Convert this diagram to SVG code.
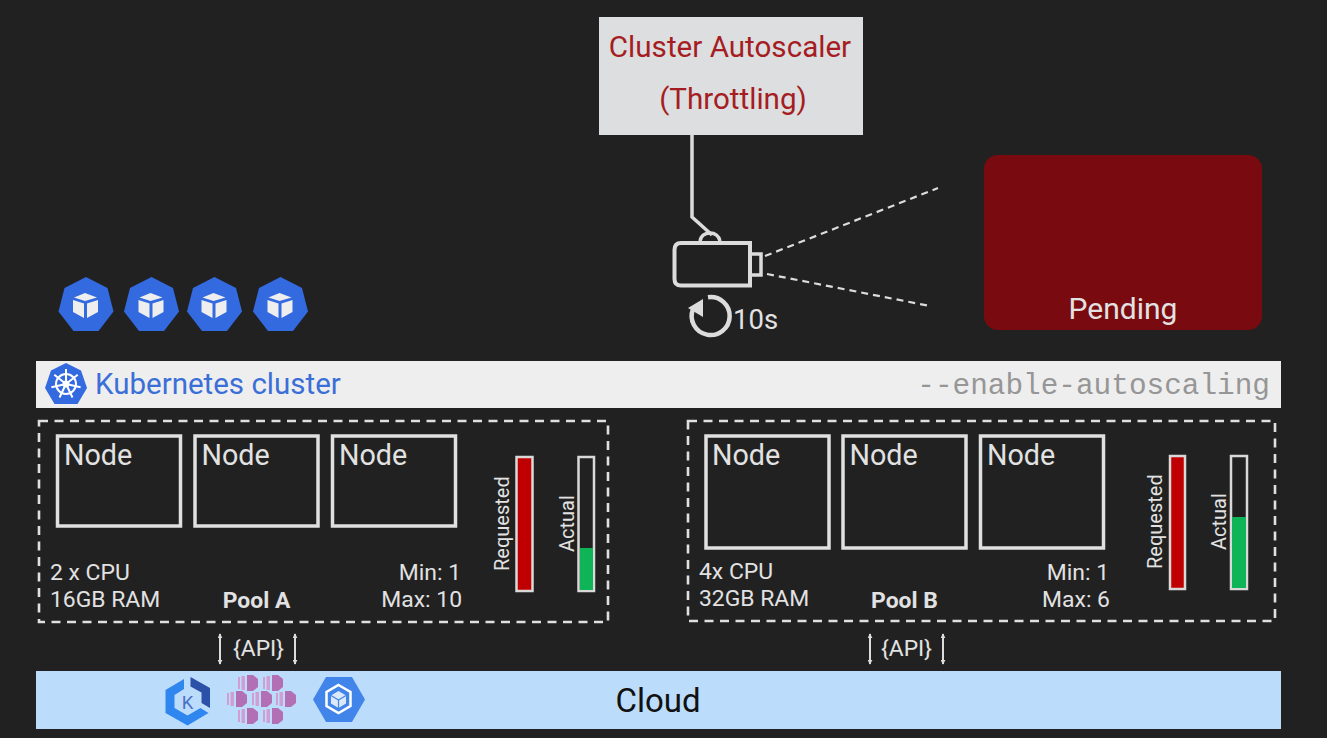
<svg xmlns="http://www.w3.org/2000/svg" width="1327" height="738" viewBox="0 0 1327 738">
<defs>
<style>
text{font-family:Roboto,"Liberation Sans",sans-serif;fill:#e2e2e2}
.node{fill:none;stroke:#e0e0e0;stroke-width:3.500}
.pool{fill:none;stroke:#e0e0e0;stroke-width:2.600;stroke-dasharray:9 6.500}
.n{font-size:28.700px}
.s{font-size:22.900px}
.v{font-size:20px}
.bar{stroke:#d9d9d9;stroke-width:2.500}
.ln{fill:none;stroke:#dcdcdc}
.hex{fill:#336ae0}
.white{fill:#eeeeee}
</style>
<marker id="a" viewBox="0 0 6 6" refX="5" refY="3" markerWidth="5" markerHeight="5" markerUnits="userSpaceOnUse" orient="auto-start-reverse"><path d="M0 0L6 3L0 6Z" fill="#dcdcdc"/></marker>
<g id="cube"><polygon class="hex" points="0,-28 21.500,-17 27.500,6.500 12.500,26 -12.500,26 -27.500,6.500 -21.500,-17"/><path class="white" d="M-1,-12 L-12,-7.500 L-1,-4 L11,-7.500Z"/><path class="white" d="M-13,-5 L-2,-1.500 V13 L-13,7Z"/><path class="white" d="M1,-1.500 L12,-5 V7 L1,13Z"/></g>
<g id="pod"><path fill="#b26fb4" d="M-1,-8 L5,-8 L10,-4 V4 L5,8 L-1,8Z"/><path fill="#cf9fd3" d="M-10,-6 H-8 V6 H-10Z M-6.500,-7 H-3 V7 H-6.500Z"/></g>
</defs>
<rect width="1327" height="738" fill="#212121"/>
<g id="connectors">
<path class="ln" stroke-width="3.500" d="M692 135V217L712 235"/>
<path class="ln" stroke-width="2.200" stroke-dasharray="7 5" d="M765 256L938 188"/>
<path class="ln" stroke-width="2.200" stroke-dasharray="7 5" d="M767 274L930 306"/>
<path class="ln" stroke-width="2" marker-start="url(#a)" marker-end="url(#a)" d="M220 634V664"/>
<path class="ln" stroke-width="2" marker-start="url(#a)" marker-end="url(#a)" d="M295 634V664"/>
<path class="ln" stroke-width="2" marker-start="url(#a)" marker-end="url(#a)" d="M870 634V664"/>
<path class="ln" stroke-width="2" marker-start="url(#a)" marker-end="url(#a)" d="M943 634V664"/>
</g>
<g id="autoscaler"><rect x="599" y="17" width="264" height="118" fill="#dcdee0"/><text x="730" y="57" text-anchor="middle" font-size="29.600" style="fill:#a51d22">Cluster Autoscaler</text><text x="733" y="109" text-anchor="middle" font-size="29.600" style="fill:#a51d22">(Throttling)</text></g>
<g id="camera">
<path class="ln" stroke-width="3.500" d="M700 241C701 235 706 233 710 233C715 233 719 236 720 241"/>
<path class="ln" stroke-width="4" d="M750 243H681Q674.500 243 674.500 250V279Q674.500 285.500 681 285.500H750Z"/>
<rect class="ln" x="750" y="254" width="11" height="21" stroke-width="3.500"/>
<path class="ln" stroke-width="4.500" d="M708 297.200A19 19 0 1 1 693 309"/>
<polygon points="688,308 703,299 703,317" fill="#dcdcdc"/>
<text x="733" y="329" font-size="27.500">10s</text>
</g>
<g id="pending"><rect x="984" y="155" width="278" height="175" rx="14" fill="#790b10"/><text x="1123" y="319" text-anchor="middle" font-size="30">Pending</text></g>
<g id="pods"><use href="#cube" x="86" y="305"/><use href="#cube" x="151.500" y="305"/><use href="#cube" x="214.500" y="305"/><use href="#cube" x="280.500" y="305"/></g>
<g id="cluster"><rect x="36" y="361" width="1245" height="47" fill="#eeeeee"/>
<polygon class="hex" points="66,363 81,370.500 87,388 77.500,404 54.500,404 45,388 51,370.500"/>
<g fill="none" stroke="#fff" stroke-width="2"><circle cx="66" cy="384" r="10"/><circle cx="66" cy="384" r="2.500"/><path d="M66 384V369M66 384L77.700 374.700M66 384L80.600 387.300M66 384L72.500 397.500M66 384L59.500 397.500M66 384L51.400 387.300M66 384L54.300 374.700"/></g>
<text x="95" y="394" font-size="29.500" style="fill:#3b6fd8">Kubernetes cluster</text>
<text x="1270" y="394" text-anchor="end" font-size="29.400" style="font-family:'Liberation Mono',monospace;fill:#969696">--enable-autoscaling</text></g>
<g id="pool-a"><rect class="pool" x="39" y="421" width="569" height="201"/>
<rect class="bar" x="516.500" y="457" width="16" height="134" fill="#c00000"/>
<rect class="bar" x="578.500" y="457" width="15.500" height="134" fill="none"/><rect x="580" y="548" width="13" height="42" fill="#0fb457"/>
<text class="v" transform="translate(509,571) rotate(-90)">Requested</text>
<text class="v" transform="translate(574,552) rotate(-90)">Actual</text>
<text class="s" x="50" y="580">2 x CPU</text><text class="s" x="50" y="607">16GB RAM</text>
<text class="s" x="256.500" y="608" text-anchor="middle" font-weight="700">Pool A</text>
<text class="s" x="461" y="580" text-anchor="end">Min: 1</text><text class="s" x="462" y="607" text-anchor="end">Max: 10</text></g>
<g id="node-a1"><rect class="node" x="57.500" y="436" width="123" height="90"/><text class="n" x="64" y="465">Node</text></g>
<g id="node-a2"><rect class="node" x="195" y="436" width="123" height="90"/><text class="n" x="201.500" y="465">Node</text></g>
<g id="node-a3"><rect class="node" x="332.500" y="436" width="123" height="90"/><text class="n" x="339" y="465">Node</text></g>
<g id="pool-b"><rect class="pool" x="688" y="421" width="587" height="200"/>
<rect class="bar" x="1170" y="456" width="15" height="133" fill="#c00000"/>
<rect class="bar" x="1231" y="456" width="16" height="133" fill="none"/><rect x="1232" y="517" width="14" height="71" fill="#0fb457"/>
<text class="v" transform="translate(1162,569) rotate(-90)">Requested</text>
<text class="v" transform="translate(1226,550) rotate(-90)">Actual</text>
<text class="s" x="699" y="579">4x CPU</text><text class="s" x="699" y="606">32GB RAM</text>
<text class="s" x="904.500" y="608" text-anchor="middle" font-weight="700">Pool B</text>
<text class="s" x="1109" y="580" text-anchor="end">Min: 1</text><text class="s" x="1110" y="607" text-anchor="end">Max: 6</text></g>
<g id="node-b1"><rect class="node" x="706" y="436" width="123" height="112"/><text class="n" x="712" y="465">Node</text></g>
<g id="node-b2"><rect class="node" x="843" y="436" width="123" height="112"/><text class="n" x="849.500" y="465">Node</text></g>
<g id="node-b3"><rect class="node" x="980.500" y="436" width="123" height="112"/><text class="n" x="987" y="465">Node</text></g>
<g id="api-a"><text x="258.500" y="656" text-anchor="middle" font-size="22.800">{API}</text></g>
<g id="api-b"><text x="906.500" y="656" text-anchor="middle" font-size="22.800">{API}</text></g>
<g id="cloud"><rect x="36" y="671" width="1245" height="58" fill="#bcdcfb"/>
<text x="658" y="712" text-anchor="middle" font-size="33" style="fill:#111">Cloud</text>
<path d="M184 679L165.500 690V713L187.500 725.500L208.500 713L200.500 708L187.500 715.500L174.500 708V695L184 689Z" fill="#2f86ee"/>
<path d="M190.500 677L210 688V708L201.500 703V692.500L190.500 686.500Z" fill="#2b50a8"/>
<text x="187.500" y="708.500" text-anchor="middle" font-size="18.500" style="fill:#4a70c9">K</text>
<use href="#pod" x="248" y="683"/><use href="#pod" x="273" y="683"/><use href="#pod" x="237" y="699"/><use href="#pod" x="262" y="699"/><use href="#pod" x="286" y="699"/><use href="#pod" x="248" y="716"/><use href="#pod" x="273" y="716"/>
<polygon points="326,677 352,677 365,699.500 352,722 326,722 313,699.500" fill="#4285ea"/>
<polygon points="338.500,685 350.500,692 350.500,706 338.500,713 326.500,706 326.500,692" fill="none" stroke="#fff" stroke-width="2.500"/>
<path d="M338.500 691L346 695.500V703.500L338.500 708L331 703.500V695.500Z" fill="#dce9fb"/>
<path d="M331 695.500L338.500 700L346 695.500M338.500 700V708" fill="none" stroke="#4285ea" stroke-width="1.200"/>
</g>
</svg>
